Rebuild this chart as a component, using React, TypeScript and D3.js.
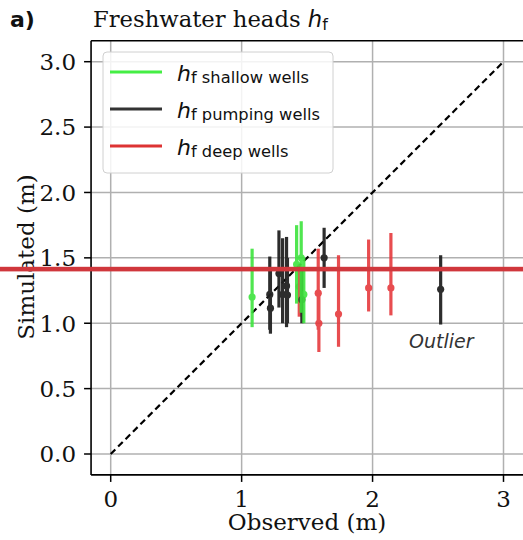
import React from "react";
import * as d3 from "d3";

const W = 523;
const H = 540;

// Shallow wells (green): observed, simulated, lower, upper
const shallowObs = [1.08, 1.42, 1.455, 1.475];
const shallowSim = [1.2, 1.45, 1.5, 1.22];
const shallowLo = [0.97, 1.15, 1.08, 1.0];
const shallowHi = [1.57, 1.75, 1.78, 1.5];

// Pumping wells (black)
const pumpObs = [1.215, 1.22, 1.285, 1.313, 1.343, 1.35, 1.46, 1.63, 2.52];
const pumpSim = [1.22, 1.115, 1.38, 1.22, 1.285, 1.216, 1.18, 1.5, 1.26];
const pumpLo = [0.95, 0.92, 1.12, 1.0, 0.97, 1.0, 1.0, 1.27, 0.99];
const pumpHi = [1.51, 1.4, 1.71, 1.65, 1.66, 1.5, 1.4, 1.73, 1.52];

// Deep wells (red)
const deepObs = [1.44, 1.585, 1.59, 1.74, 1.97, 2.14];
const deepSim = [1.28, 1.23, 1.0, 1.07, 1.27, 1.27];
const deepLo = [1.05, 0.95, 0.78, 0.82, 1.09, 1.06];
const deepHi = [1.45, 1.57, 1.25, 1.52, 1.64, 1.69];

const xTicks = [0, 1, 2, 3];
const yTicks = [0, 0.5, 1.0, 1.5, 2.0, 2.5, 3.0];

const legendLabels = ["shallow wells", "pumping wells", "deep wells"];

const GREEN = "#3ee43e";
const BLACK = "#222222";
const RED = "#e63a3e";

type Series = { obs: number[]; sim: number[]; lo: number[]; hi: number[]; color: string; op: number };

export default function App() {
  const x = d3.scaleLinear().domain([0, 3]).range([110.7, 503.5]);
  const y = d3.scaleLinear().domain([0, 3]).range([454, 61.7]);
  const left = x(-0.15);
  const right = x(3.15);
  const top = y(3.16);
  const bottom = y(-0.16);

  const series: Series[] = [
    { obs: deepObs, sim: deepSim, lo: deepLo, hi: deepHi, color: RED, op: 0.9 },
    { obs: pumpObs, sim: pumpSim, lo: pumpLo, hi: pumpHi, color: BLACK, op: 0.95 },
    { obs: shallowObs, sim: shallowSim, lo: shallowLo, hi: shallowHi, color: GREEN, op: 0.9 },
  ];

  const diag = d3.line<number>()
    .x((d) => x(d))
    .y((d) => y(d))([0, 3]) as string;

  const serif = "'DejaVu Serif', serif";
  const sans = "'DejaVu Sans', sans-serif";
  const legendColors = ["#44ee44", "#333333", "#dd3333"];
  const legendY = [72, 109, 146];
  const FS = 23;

  return (
    <svg
      width={W}
      height={H}
      viewBox={`0 0 ${W} ${H}`}
      style={{ position: "absolute", left: 0, top: 0, background: "#fff" }}
    >
      <rect x={0} y={0} width={W} height={H} fill="#fff" />
      <defs>
        <clipPath id="plotclip">
          <rect x={left} y={top} width={right - left} height={bottom - top} />
        </clipPath>
      </defs>
      {/* grid */}
      <g stroke="#b0b0b0" strokeWidth={1.5}>
        {xTicks.map((t) => (
          <line key={"gx" + t} x1={x(t)} x2={x(t)} y1={top} y2={bottom} />
        ))}
        {yTicks.map((t) => (
          <line key={"gy" + t} x1={left} x2={right} y1={y(t)} y2={y(t)} />
        ))}
      </g>
      {/* 1:1 line */}
      <path d={diag} stroke="#000" strokeWidth={2.2} strokeDasharray="6.5,4" fill="none" />
      {/* error bars */}
      <g clipPath="url(#plotclip)">
        {series.map((s, si) => (
          <g key={"s" + si} opacity={s.op}>
            {s.obs.map((o, i) => (
              <g key={i}>
                <line x1={x(o)} x2={x(o)} y1={y(s.lo[i])} y2={y(s.hi[i])} stroke={s.color} strokeWidth={3.2} />
                <circle cx={x(o)} cy={y(s.sim[i])} r={3.6} fill={s.color} />
              </g>
            ))}
          </g>
        ))}
      </g>
      {/* spines */}
      <g stroke="#000" strokeWidth={1.6} fill="none">
        <line x1={left} x2={left} y1={top} y2={bottom} />
        <line x1={left} x2={right} y1={bottom} y2={bottom} />
        <line x1={left} x2={right} y1={top} y2={top} />
      </g>
      {/* y ticks */}
      {yTicks.map((t) => (
        <g key={"yt" + t}>
          <line x1={left - 7} x2={left} y1={y(t)} y2={y(t)} stroke="#000" strokeWidth={1.5} />
          <text x={left - 15} y={y(t) + 8.3} textAnchor="end" fontFamily={serif} fontSize={FS} fill="#111">
            {t.toFixed(1)}
          </text>
        </g>
      ))}
      {/* x ticks */}
      {xTicks.map((t) => (
        <g key={"xt" + t}>
          <line x1={x(t)} x2={x(t)} y1={bottom} y2={bottom + 7} stroke="#000" strokeWidth={1.5} />
          <text x={x(t)} y={507} textAnchor="middle" fontFamily={serif} fontSize={FS} fill="#111">
            {t}
          </text>
        </g>
      ))}
      {/* axis labels */}
      <text x={307} y={530} textAnchor="middle" fontFamily={serif} fontSize={FS} fill="#111">
        Observed (m)
      </text>
      <text
        transform={`translate(34,257) rotate(-90)`}
        textAnchor="middle"
        fontFamily={serif}
        fontSize={FS}
        fill="#111"
      >
        Simulated (m)
      </text>
      {/* title */}
      <text x={10} y={27} fontFamily={sans} fontWeight="bold" fontSize={22} fill="#111">
        a)
      </text>
      <text x={93} y={27} fontFamily={serif} fontSize={22.7} fill="#111">
        Freshwater heads{" "}
        <tspan fontFamily={sans} fontStyle="italic">h</tspan>
        <tspan fontFamily={sans} fontSize={16} dy={3}>f</tspan>
      </text>
      {/* outlier */}
      <text x={409} y={348} fontFamily={sans} fontStyle="italic" fontSize={19} fill="#333">
        Outlier
      </text>
      {/* legend */}
      <rect x={103} y={52} width={230} height={121} rx={4} fill="#fff" fillOpacity={0.85} stroke="#d0d0d0" strokeWidth={1} />
      {legendLabels.map((lab, i) => (
        <g key={"lg" + i}>
          <line x1={110} x2={162} y1={legendY[i]} y2={legendY[i]} stroke={legendColors[i]} strokeWidth={3} />
          <text x={177} y={legendY[i] + 9} fontFamily={sans} fontSize={22} fill="#111">
            <tspan fontStyle="italic">h</tspan>
            <tspan fontSize={16.3} dy={2}>{"f " + lab}</tspan>
          </text>
        </g>
      ))}
      {/* red horizontal overlay line */}
      <rect x={0} y={266.8} width={W} height={4.6} fill="#d0373c" />
    </svg>
  );
}
